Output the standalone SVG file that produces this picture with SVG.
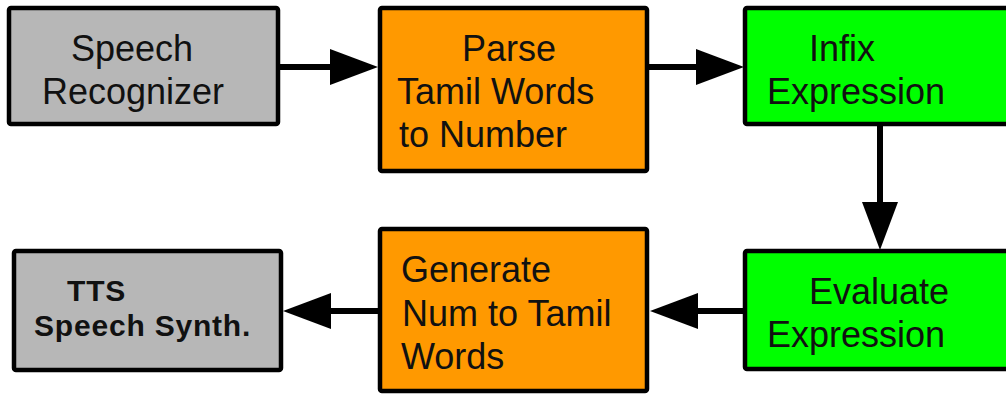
<svg xmlns="http://www.w3.org/2000/svg" width="1006" height="394" viewBox="0 0 1006 394">
<style>
.box{stroke:#000;stroke-width:4.5;stroke-linejoin:round}
.gray{fill:#b7b7b7}
.orange{fill:#ff9900}
.green{fill:#00ff00}
.t{font-family:"Liberation Sans",Arial,sans-serif;font-size:36px;fill:#111}
.tb{font-family:"Liberation Sans",Arial,sans-serif;font-size:30px;font-weight:bold;fill:#111;letter-spacing:0.8px}
.conn{stroke:#000;stroke-width:6;fill:none}
</style>
<defs>
<marker id="arr" viewBox="0 0 48 36" refX="0" refY="18" markerWidth="48" markerHeight="36" markerUnits="userSpaceOnUse" orient="auto">
<path d="M0,0 L48,18 L0,36 Z" fill="#000"/>
</marker>
</defs>
<g id="connectors">
<path class="conn" d="M280,67 L330,67" marker-end="url(#arr)"/>
<path class="conn" d="M649,67 L696,67" marker-end="url(#arr)"/>
<path class="conn" d="M880,126 L880,202" marker-end="url(#arr)"/>
<path class="conn" d="M743,311 L698,311" marker-end="url(#arr)"/>
<path class="conn" d="M378,311 L331,311" marker-end="url(#arr)"/>
</g>
<g id="speech-recognizer">
<rect class="box gray" x="9" y="8" width="269" height="116" rx="2"/>
<text class="t" x="71" y="61">Speech</text>
<text class="t" x="42" y="104">Recognizer</text>
</g>
<g id="parse">
<rect class="box orange" x="380" y="8" width="267" height="163" rx="2"/>
<text class="t" x="462" y="61">Parse</text>
<text class="t" x="397" y="104">Tamil Words</text>
<text class="t" x="399" y="147">to Number</text>
</g>
<g id="infix">
<rect class="box green" x="745" y="8" width="270" height="116" rx="2"/>
<text class="t" x="809" y="61">Infix</text>
<text class="t" x="767" y="104">Expression</text>
</g>
<g id="evaluate">
<rect class="box green" x="745" y="251" width="270" height="118" rx="2"/>
<text class="t" x="809" y="304">Evaluate</text>
<text class="t" x="767" y="347">Expression</text>
</g>
<g id="generate">
<rect class="box orange" x="380" y="229" width="267" height="162" rx="2"/>
<text class="t" x="401" y="282">Generate</text>
<text class="t" x="402" y="326">Num to Tamil</text>
<text class="t" x="401" y="369">Words</text>
</g>
<g id="tts">
<rect class="box gray" x="14" y="251" width="267" height="119" rx="2"/>
<text class="tb" x="67" y="301">TTS</text>
<text class="tb" x="34" y="336">Speech Synth.</text>
</g>
</svg>
